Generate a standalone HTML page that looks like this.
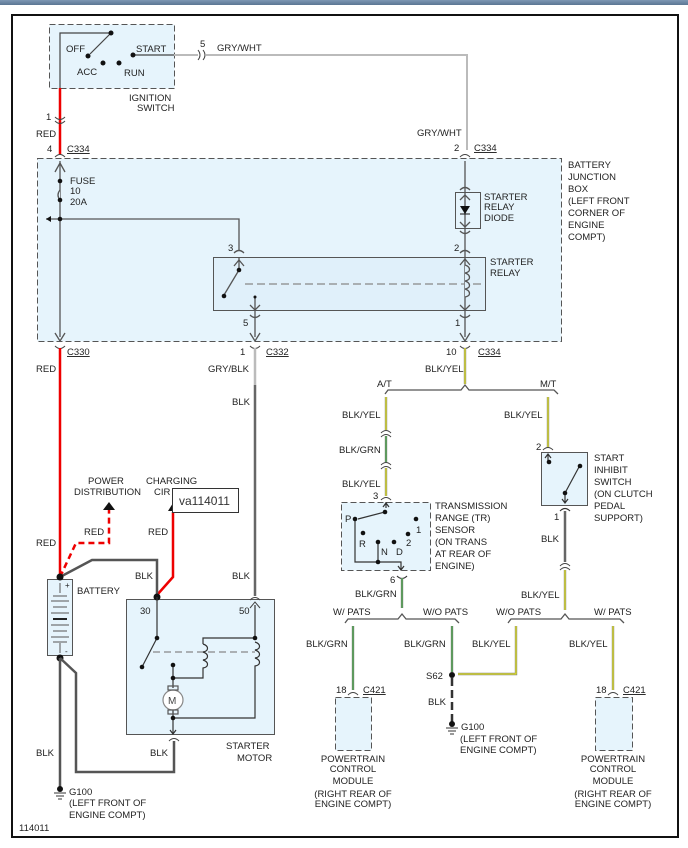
<!DOCTYPE html>
<html><head><meta charset="utf-8"><style>
html,body{margin:0;padding:0;background:#fff;}
svg{display:block;}
text{font-family:"Liberation Sans",sans-serif;font-size:9.5px;fill:#222;}
</style></head><body>
<svg width="688" height="848" viewBox="0 0 688 848" xmlns="http://www.w3.org/2000/svg">
<defs>
<linearGradient id="bar" x1="0" y1="0" x2="0" y2="1"><stop offset="0" stop-color="#7d97b3"/><stop offset="1" stop-color="#5b7693"/></linearGradient>
</defs>
<rect x="0" y="0" width="688" height="5" fill="url(#bar)"/>
<rect x="12" y="15" width="666" height="822" fill="#fff" stroke="#111" stroke-width="2"/>

<!-- boxes -->
<rect x="49.5" y="24.5" width="125" height="64" fill="#e6f4fc" stroke="#555" stroke-dasharray="6,3"/>
<rect x="37.5" y="158.5" width="524" height="183" fill="#e6f4fc" stroke="#555" stroke-dasharray="6,3"/>
<rect x="213.5" y="257.5" width="272" height="53" fill="#e0f0fa" stroke="#555"/>
<rect x="455.5" y="192.5" width="25" height="36" fill="#e6f4fc" stroke="#555"/>
<rect x="341.5" y="502.5" width="89" height="68" fill="#e6f4fc" stroke="#555" stroke-dasharray="6,3"/>
<rect x="541.5" y="452.5" width="46" height="53" fill="#e6f4fc" stroke="#555"/>
<rect x="126.5" y="599.5" width="148" height="135" fill="#e6f4fc" stroke="#555"/>
<rect x="47.5" y="579.5" width="25" height="76" fill="#e6f4fc" stroke="#555"/>
<rect x="335.5" y="697.5" width="36" height="53" fill="#e6f4fc" stroke="#555" stroke-dasharray="6,3"/>
<rect x="595.5" y="697.5" width="37" height="53" fill="#e6f4fc" stroke="#555" stroke-dasharray="6,3"/>

<!-- ignition switch -->
<g stroke="#444" fill="none" stroke-width="1.2">
<polyline points="60,88 60,33 111,33"/>
<line x1="111" y1="33" x2="90" y2="54"/>
<line x1="133" y1="55" x2="174" y2="55"/>
</g>
<g fill="#111"><circle cx="111" cy="33" r="2.5"/><circle cx="88" cy="56" r="2.5"/><circle cx="103" cy="63" r="2.5"/><circle cx="119" cy="63" r="2.5"/><circle cx="133" cy="55" r="2.5"/></g>
<text x="66" y="52">OFF</text><text x="136" y="52">START</text><text x="77" y="75">ACC</text><text x="124" y="76">RUN</text>
<text x="129" y="101">IGNITION</text><text x="137" y="111">SWITCH</text>

<!-- gray/wht -->
<polyline points="174,55 198,55" stroke="#bbb" stroke-width="2" fill="none"/>
<path d="M198,50 q4,5 0,10 M203,50 q4,5 0,10" stroke="#444" fill="none"/>
<polyline points="206,55 467,55 467,150" stroke="#bbb" stroke-width="2" fill="none"/>
<text x="200" y="47">5</text><text x="217" y="51">GRY/WHT</text>
<text x="417" y="136">GRY/WHT</text><text x="454" y="151">2</text><text x="474" y="151" text-decoration="underline">C334</text>
<path d="M460,157 q5,-5 10,0" stroke="#444" fill="none"/>

<!-- red top -->
<line x1="60" y1="88" x2="60" y2="155" stroke="#e00" stroke-width="2.5"/>
<path d="M55,117 q5,5 10,0 M55,121 q5,5 10,0 M55,157 q5,-5 10,0" stroke="#444" fill="none"/>
<text x="46" y="120">1</text><text x="36" y="137">RED</text><text x="47" y="152">4</text><text x="67" y="152" text-decoration="underline">C334</text>

<!-- inside junction box -->
<g stroke="#555" fill="none" stroke-width="1.3">
<line x1="60" y1="161" x2="60" y2="337"/>
<polyline points="46,219 239,219 239,251"/>
<line x1="239" y1="257" x2="239" y2="270"/>
<line x1="255" y1="297" x2="255" y2="337"/>
<line x1="465" y1="161" x2="465" y2="337"/>
<line x1="239" y1="270" x2="224" y2="295"/>
<line x1="245" y1="284" x2="485" y2="284" stroke-dasharray="8,4" stroke="#888"/>
<path d="M234,253 q5,-5 10,0 M250,315 q5,5 10,0 M460,190 q5,-5 10,0 M460,231 q5,5 10,0 M460,253 q5,-5 10,0 M460,315 q5,5 10,0"/>
<path d="M465,265 c6,2 6,7 0,8 c6,2 6,7 0,8 c6,2 6,7 0,8 c6,2 6,7 0,8" fill="#e0f0fa"/>
<path d="M55,172 l5,-9 5,9 M55,333 l5,8 5,-8 M250,333 l5,8 5,-8 M460,333 l5,8 5,-8 M250,305 l5,5 5,-5 M460,305 l5,5 5,-5 M460,200 l5,-5 5,5 M460,222 l5,5 5,-5 M234,266 l5,-6 5,6 M460,265 l5,-6 5,6"/>
<path d="M60,190 q-4,5 0,10" fill="#e6f4fc"/>
</g>
<polygon points="460,206 470,206 465,214" fill="#111"/><line x1="460" y1="214" x2="470" y2="214" stroke="#111"/>
<polygon points="46,219 51,216 51,222" fill="#111"/>
<g fill="#111"><circle cx="60" cy="181" r="2.3"/><circle cx="60" cy="200" r="2.3"/><circle cx="60" cy="219" r="2.3"/><circle cx="239" cy="270" r="2.3"/><circle cx="224" cy="296" r="2.3"/><circle cx="255" cy="297" r="1.5"/></g>
<text x="70" y="184">FUSE</text><text x="70" y="194">10</text><text x="70" y="205">20A</text>
<text x="228" y="251">3</text><text x="243" y="326">5</text><text x="454" y="251">2</text><text x="455" y="326">1</text>
<text x="484" y="200">STARTER</text><text x="484" y="210">RELAY</text><text x="484" y="221">DIODE</text>
<text x="490" y="265">STARTER</text><text x="490" y="276">RELAY</text>
<text x="568" y="168">BATTERY</text><text x="568" y="180">JUNCTION</text><text x="568" y="192">BOX</text><text x="568" y="204">(LEFT FRONT</text><text x="568" y="216">CORNER OF</text><text x="568" y="228">ENGINE</text><text x="568" y="240">COMPT)</text>

<!-- below box connectors -->
<path d="M55,346 q5,5 10,0 M250,346 q5,5 10,0 M460,346 q5,5 10,0" stroke="#444" fill="none"/>
<text x="67" y="355" text-decoration="underline">C330</text><text x="240" y="355">1</text><text x="266" y="355" text-decoration="underline">C332</text>
<text x="446" y="355">10</text><text x="478" y="355" text-decoration="underline">C334</text>
<text x="36" y="372">RED</text><text x="208" y="372">GRY/BLK</text><text x="232" y="405">BLK</text><text x="425" y="372">BLK/YEL</text>

<!-- red main -->
<line x1="60" y1="348" x2="60" y2="577" stroke="#e00" stroke-width="2.5"/>
<text x="36" y="546">RED</text>
<!-- starter 50 wire -->
<line x1="255" y1="348" x2="255" y2="385" stroke="#bbb" stroke-width="2.5"/>
<line x1="255" y1="385" x2="255" y2="596" stroke="#666" stroke-width="2.5"/>
<path d="M250,600 q5,-5 10,0 M250,608 l5,-6 5,6" stroke="#444" fill="none"/>
<text x="232" y="579">BLK</text>

<!-- BLK/YEL main -->
<g>
<line x1="465" y1="348" x2="465" y2="384" stroke="#888" stroke-width="2.4"/><line x1="465" y1="348" x2="465" y2="384" stroke="#f2f200" stroke-width="1"/>
<path d="M385,394 l3,-4 H461 l4,-5 4,5 H554 l4,4" stroke="#555" fill="none" stroke-width="1.3"/>
<text x="377" y="387">A/T</text><text x="540" y="387">M/T</text>
<!-- A/T -->
<line x1="386" y1="397" x2="386" y2="430" stroke="#888" stroke-width="2.4"/><line x1="386" y1="397" x2="386" y2="430" stroke="#f2f200" stroke-width="1"/>
<line x1="386" y1="436" x2="386" y2="462" stroke="#888" stroke-width="2.4"/><line x1="386" y1="436" x2="386" y2="462" stroke="#3a3" stroke-width="1"/>
<line x1="386" y1="468" x2="386" y2="496" stroke="#888" stroke-width="2.4"/><line x1="386" y1="468" x2="386" y2="496" stroke="#f2f200" stroke-width="1"/>
<path d="M381,433 q5,-5 10,0 M381,437 q5,-5 10,0 M381,465 q5,-5 10,0 M381,469 q5,-5 10,0 M381,500 q5,-5 10,0" stroke="#444" fill="none"/>
<text x="342" y="418">BLK/YEL</text><text x="339" y="453">BLK/GRN</text><text x="342" y="487">BLK/YEL</text><text x="373" y="499">3</text>
<!-- M/T -->
<line x1="548" y1="397" x2="548" y2="448" stroke="#888" stroke-width="2.4"/><line x1="548" y1="397" x2="548" y2="448" stroke="#f2f200" stroke-width="1"/>
<path d="M543,450 q5,-5 10,0" stroke="#444" fill="none"/>
<text x="504" y="418">BLK/YEL</text><text x="536" y="450">2</text>
<text x="594" y="461">START</text><text x="594" y="473">INHIBIT</text><text x="594" y="485">SWITCH</text><text x="594" y="497">(ON CLUTCH</text><text x="594" y="509">PEDAL</text><text x="594" y="521">SUPPORT)</text>
</g>
<!-- inhibit internals -->
<g stroke="#333" fill="none" stroke-width="1.2">
<path d="M548,462 V454 M545,458 l3,-4 3,4"/>
<line x1="565" y1="493" x2="579" y2="467"/>
<path d="M565,493 V503 M562,499 l3,4 3,-4"/>
<path d="M560,511 q5,-5 10,0"/>
</g>
<g fill="#111"><circle cx="549" cy="462" r="2.3"/><circle cx="580" cy="466" r="2.3"/><circle cx="565" cy="493" r="2.3"/></g>
<text x="554" y="520">1</text>
<line x1="565" y1="511" x2="565" y2="562" stroke="#666" stroke-width="2.5"/>
<text x="541" y="542">BLK</text>
<path d="M560,566 q5,-5 10,0 M560,570 q5,-5 10,0" stroke="#444" fill="none"/>
<line x1="565" y1="570" x2="565" y2="610" stroke="#888" stroke-width="2.4"/><line x1="565" y1="570" x2="565" y2="610" stroke="#f2f200" stroke-width="1"/>
<text x="521" y="598">BLK/YEL</text>

<!-- TR internals -->
<g stroke="#333" fill="none" stroke-width="1.2">
<path d="M386,502 V508 M383,507 l3,-4 3,4"/>
<line x1="385" y1="512" x2="358" y2="519"/>
<polyline points="355,519 355,562 378,562"/>
<line x1="378" y1="542" x2="378" y2="562"/>
<polyline points="378,562 401,562 401,570"/><path d="M398,566 l3,4 3,-4"/>
<path d="M397,576 q5,5 10,0"/>
</g>
<g fill="#111"><circle cx="385" cy="512" r="2.3"/><circle cx="355" cy="519" r="2.3"/><circle cx="416" cy="519" r="2.3"/><circle cx="363" cy="533" r="2.3"/><circle cx="408" cy="534" r="2.3"/><circle cx="378" cy="542" r="2.3"/><circle cx="394" cy="542" r="2.3"/><circle cx="378" cy="562" r="2.3"/></g>
<text x="345" y="522">P</text><text x="416" y="533">1</text><text x="359" y="547">R</text><text x="406" y="546">2</text><text x="381" y="555">N</text><text x="396" y="555">D</text>
<text x="435" y="509">TRANSMISSION</text><text x="435" y="521">RANGE (TR)</text><text x="435" y="533">SENSOR</text><text x="435" y="545">(ON TRANS</text><text x="435" y="557">AT REAR OF</text><text x="435" y="569">ENGINE)</text>
<text x="390" y="583">6</text>
<line x1="402" y1="578" x2="402" y2="608" stroke="#888" stroke-width="2.4"/><line x1="402" y1="578" x2="402" y2="608" stroke="#3a3" stroke-width="1"/>
<text x="355" y="597">BLK/GRN</text>

<!-- PATS buses -->
<path d="M345,623 l3,-4 H398 l4,-5 4,5 H455 l4,4" stroke="#555" fill="none" stroke-width="1.3"/>
<path d="M508,623 l3,-4 H561 l4,-5 4,5 H620 l4,4" stroke="#555" fill="none" stroke-width="1.3"/>
<text x="333" y="615">W/ PATS</text><text x="423" y="615">W/O PATS</text><text x="496" y="615">W/O PATS</text><text x="594" y="615">W/ PATS</text>
<line x1="353" y1="626" x2="353" y2="690" stroke="#888" stroke-width="2.4"/><line x1="353" y1="626" x2="353" y2="690" stroke="#3a3" stroke-width="1"/>
<line x1="452" y1="626" x2="452" y2="672" stroke="#888" stroke-width="2.4"/><line x1="452" y1="626" x2="452" y2="672" stroke="#3a3" stroke-width="1"/>
<polyline points="458,674 516,674 516,626" stroke="#888" stroke-width="2.4" fill="none"/><polyline points="458,674 516,674 516,626" stroke="#f2f200" stroke-width="1" fill="none"/>
<line x1="613" y1="626" x2="613" y2="690" stroke="#888" stroke-width="2.4"/><line x1="613" y1="626" x2="613" y2="690" stroke="#f2f200" stroke-width="1"/>
<text x="306" y="647">BLK/GRN</text><text x="404" y="647">BLK/GRN</text><text x="472" y="647">BLK/YEL</text><text x="569" y="647">BLK/YEL</text>
<circle cx="452" cy="675" r="3" fill="#111"/><text x="426" y="679">S62</text>
<line x1="452" y1="678" x2="452" y2="722" stroke="#333" stroke-width="2.5" stroke-dasharray="8,4"/>
<text x="428" y="705">BLK</text>
<circle cx="452" cy="724" r="3" fill="#111"/><path d="M446,728 h12 M448,731 h8 M450,734 h4" stroke="#333"/>
<text x="461" y="730">G100</text><text x="460" y="742">(LEFT FRONT OF</text><text x="460" y="753">ENGINE COMPT)</text>
<path d="M348,695 q5,-5 10,0 M608,695 q5,-5 10,0" stroke="#444" fill="none"/>
<text x="336" y="693">18</text><text x="363" y="693" text-decoration="underline">C421</text>
<text x="596" y="693">18</text><text x="623" y="693" text-decoration="underline">C421</text>
<g text-anchor="middle"><text x="353" y="762">POWERTRAIN</text><text x="353" y="772">CONTROL</text><text x="353" y="784">MODULE</text><text x="353" y="797">(RIGHT REAR OF</text><text x="353" y="807">ENGINE COMPT)</text>
<text x="613" y="762">POWERTRAIN</text><text x="613" y="772">CONTROL</text><text x="613" y="784">MODULE</text><text x="613" y="797">(RIGHT REAR OF</text><text x="613" y="807">ENGINE COMPT)</text></g>

<!-- battery area -->
<polyline points="60,577 76,543 109,543 109,510" stroke="#e00" stroke-width="2.5" stroke-dasharray="6,4" fill="none"/>
<polygon points="103,510 115,510 109,502" fill="#111"/>
<text x="84" y="535">RED</text>
<text x="88" y="484">POWER</text><text x="74" y="495">DISTRIBUTION</text>
<text x="146" y="484">CHARGING</text><text x="154" y="495">CIR</text>
<polygon points="168,511 178,511 173,503" fill="#111"/>
<polyline points="173,512 173,577 157,595" stroke="#e00" stroke-width="2.5" fill="none"/>
<text x="148" y="535">RED</text>
<rect x="172.5" y="488.5" width="66" height="24" fill="#fff" stroke="#333"/>
<text x="179" y="505" style="font-size:12px;fill:#333">va114011</text>
<polyline points="60,577 92,560 157,560 157,595" stroke="#555" stroke-width="2.5" fill="none"/>
<text x="135" y="579">BLK</text>
<circle cx="60" cy="577" r="3.5" fill="#111"/><circle cx="60" cy="658" r="3.5" fill="#111"/>
<g stroke="#555" stroke-width="1"><line x1="60" y1="583" x2="60" y2="593"/><line x1="53" y1="596" x2="67" y2="596"/><line x1="51" y1="601" x2="69" y2="601"/><line x1="53" y1="607" x2="67" y2="607"/><line x1="51" y1="613" x2="69" y2="613"/><line x1="53" y1="619" x2="67" y2="619" stroke-width="2" stroke="#222"/><line x1="51" y1="625" x2="69" y2="625"/><line x1="53" y1="631" x2="67" y2="631"/><line x1="51" y1="637" x2="69" y2="637"/><line x1="53" y1="642" x2="67" y2="642"/><line x1="60" y1="643" x2="60" y2="653"/></g>
<text x="65" y="588" style="font-size:8px">+</text><text x="65" y="654" style="font-size:8px">-</text>
<text x="77" y="594">BATTERY</text>
<polyline points="60,658 60,787" stroke="#555" stroke-width="2.5" fill="none"/>
<polyline points="60,658 76,673 76,772 174,772 174,741" stroke="#555" stroke-width="2.5" fill="none"/>
<path d="M169,741 q5,-5 10,0" stroke="#444" fill="none"/>
<text x="36" y="756">BLK</text><text x="150" y="756">BLK</text>
<circle cx="60" cy="789" r="3" fill="#111"/><path d="M54,793 h12 M56,796 h8 M58,799 h4" stroke="#333"/>
<text x="69" y="795">G100</text><text x="69" y="806">(LEFT FRONT OF</text><text x="69" y="818">ENGINE COMPT)</text>
<text x="19" y="831">114011</text>

<!-- starter internals -->
<circle cx="157" cy="597" r="3.5" fill="#111"/>
<g stroke="#333" fill="none" stroke-width="1.2">
<line x1="157" y1="597" x2="157" y2="638"/>
<line x1="157" y1="638" x2="142" y2="667"/>
<line x1="153" y1="652" x2="255" y2="652" stroke="#888" stroke-dasharray="7,4"/>
<polyline points="255,605 255,638 203,638 203,644"/>
<path d="M203,644 c6,2 6,7 0,8 c6,2 6,7 0,8 c6,2 6,7 0,8 V678 H173"/>
<path d="M255,642 c6,2 6,7 0,8 c6,2 6,7 0,8 c6,2 6,7 0,8 V718 H173"/>
<line x1="173" y1="665" x2="173" y2="688"/>
<line x1="173" y1="708" x2="173" y2="734"/>
<path d="M170,730 l3,4 3,-4"/>
<circle cx="173" cy="700" r="10" fill="#fff" stroke="#888"/>
<rect x="168" y="686" width="10" height="4" stroke="#555"/><rect x="168" y="710" width="10" height="4" stroke="#555"/>
</g>
<text x="168" y="704" style="font-size:10px;fill:#444">M</text>
<g fill="#111"><circle cx="157" cy="638" r="2.3"/><circle cx="142" cy="667" r="2.3"/><circle cx="255" cy="638" r="2.3"/><circle cx="173" cy="665" r="2.3"/><circle cx="173" cy="678" r="2.3"/><circle cx="173" cy="718" r="2.3"/></g>
<text x="140" y="614">30</text><text x="239" y="614">50</text>
<text x="226" y="749">STARTER</text><text x="237" y="761">MOTOR</text>
</svg>
</body></html>
